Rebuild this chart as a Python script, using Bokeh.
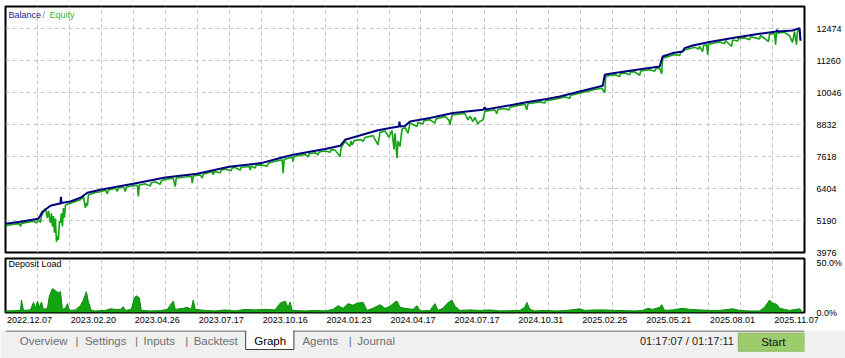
from bokeh.plotting import figure
from bokeh.layouts import column
from bokeh.models import Range1d, FixedTicker, Label, ColumnDataSource, PrintfTickFormatter
from bokeh.embed import file_html
from bokeh.resources import INLINE
from bokeh.core.properties import value

FONT = "Liberation Sans"
GREEN = "#13a313"
NAVY = "#00007f"
GRID = "#c4c4c4"

# ---------------- data ----------------
y_ticks = [3976, 5190, 6404, 7618, 8832, 10046, 11260, 12474]
date_labels = ["2022.12.07", "2023.02.20", "2023.04.26", "2023.07.17", "2023.10.16",
               "2024.01.23", "2024.04.17", "2024.07.17", "2024.10.31", "2025.02.25",
               "2025.05.21", "2025.08.01", "2025.11.07"]

bal_x = [0, 15, 33, 37, 45, 53, 55, 55.5, 56, 65, 75, 82, 95, 128, 160, 192, 224, 256,
         275, 288, 320, 335, 340, 372, 385, 394, 394.5, 395, 400, 405, 425, 448, 478, 480,
         481, 508, 523, 542, 555, 575, 598, 600, 605, 632, 655, 658, 668, 678, 680, 688,
         705, 728, 755, 772, 772.5, 773, 788, 795, 796]
bal_v = [5065, 5141, 5255, 5520, 5748, 5824, 5824, 6090, 5850, 5911, 6051, 6241, 6355,
         6582, 6822, 6962, 7228, 7368, 7558, 7683, 7899, 8024, 8252, 8605, 8696, 8756,
         8946, 8760, 8780, 8946, 9075, 9265, 9390, 9477, 9400, 9580, 9682, 9796, 9895,
         10084, 10301, 10718, 10756, 10908, 11033, 11412, 11541, 11602, 11731, 11830,
         11959, 12110, 12274, 12361, 12425, 12365, 12399, 12490, 12019]

equity_pts = [
    (0, 4990), (10, 5060), (14, 5070), (15, 4962), (16, 5080), (28, 5160), (31, 5103),
    (32, 5170), (34, 5180), (35, 5110), (36, 5360), (37, 5440), (40, 5643), (42, 5290),
    (43, 5560), (45, 5103), (46, 5460), (47, 4962), (48, 5360), (49, 4723), (50, 5260),
    (51, 4382), (52, 4600), (53, 4458), (54, 5160), (55, 5103), (56, 5460), (57, 4962),
    (58, 5660), (59, 5293), (60, 5760), (62, 5810), (65, 5840), (70, 5910), (75, 5980),
    (78, 6110), (80, 5672), (81, 5860), (82, 5750), (83, 6160), (90, 6250), (95, 6280),
    (100, 6340), (102, 6200), (103, 6350), (110, 6410), (112, 6300), (113, 6420),
    (118, 6460), (120, 6290), (121, 6460), (128, 6510), (132, 6530), (133, 6101),
    (134, 6540), (140, 6580), (145, 6500), (146, 6620), (150, 6660), (155, 6560),
    (156, 6700), (160, 6750), (168, 6790), (170, 6480), (171, 6800), (180, 6840),
    (186, 6870), (187, 6609), (188, 6880), (195, 6920), (197, 6800), (198, 6940),
    (200, 6970), (207, 7040), (208, 6924), (209, 7050), (215, 7000), (216, 7110),
    (220, 7140), (226, 7080), (227, 7190), (230, 7200), (235, 7100), (236, 7220),
    (240, 7220), (244, 7240), (245, 7100), (246, 7260), (250, 7180), (251, 7290),
    (256, 7300), (262, 7250), (263, 7360), (270, 7440), (277, 7490), (278, 6988),
    (279, 7500), (287, 7600), (288, 7429), (289, 7620), (300, 7700), (303, 7600),
    (304, 7720), (310, 7760), (313, 7680), (314, 7790), (320, 7830), (325, 7780),
    (326, 7880), (330, 7860), (335, 7618), (336, 7950), (340, 8190), (345, 8000),
    (346, 8210), (347, 8062), (349, 8220), (356, 8260), (358, 8187), (360, 8340),
    (368, 8410), (373, 8062), (375, 8540), (380, 8580), (384, 8350), (385, 8442),
    (387, 8610), (389, 7884), (390, 8500), (392, 7558), (393, 8200), (395, 8000),
    (397, 8660), (400, 8720), (403, 8500), (405, 8890), (412, 8756), (413, 8920),
    (418, 8850), (419, 8980), (425, 9010), (430, 8885), (431, 9040), (440, 9140),
    (444, 9000), (445, 8821), (447, 9190), (455, 9230), (460, 9250), (463, 9011),
    (465, 9150), (468, 8946), (470, 9100), (473, 8848), (475, 8950), (478, 9000),
    (480, 9340), (490, 9380), (492, 9250), (493, 9400), (500, 9440), (504, 9380),
    (505, 9490), (510, 9530), (520, 9600), (522, 9390), (523, 9620), (535, 9690),
    (540, 9650), (541, 9730), (550, 9790), (560, 9880), (565, 9830), (566, 9940),
    (575, 10020), (590, 10160), (597, 10210), (600, 10046), (601, 10660), (610, 10720),
    (615, 10650), (616, 10770), (620, 10790), (625, 10720), (626, 10830), (630, 10830),
    (635, 10700), (636, 10860), (645, 10910), (650, 10850), (651, 10950), (655, 10970),
    (657, 10756), (658, 11350), (670, 11490), (675, 11450), (676, 11560), (680, 11660),
    (690, 11760), (694, 11700), (695, 11800), (698, 11600), (699, 11830), (702, 11860),
    (703, 11477), (704, 11880), (715, 11960), (720, 11900), (721, 12020), (727, 11792),
    (728, 12040), (733, 12000), (734, 12090), (740, 12120), (745, 12050), (746, 12160),
    (755, 12080), (756, 12210), (764, 11981), (765, 12260), (770, 12290), (771, 11856),
    (772, 12300), (780, 12330), (785, 12200), (788, 11950), (790, 12360), (792, 11856),
    (793, 12390), (795, 12420), (796, 12000)]
eq_x = [p[0] for p in equity_pts]
eq_v = [p[1] for p in equity_pts]

deposit_pts = [
    (0, 1.5), (10, 1.8), (15, 2), (16, 12), (18, 2), (25, 2.5), (28, 9.7), (30, 4),
    (32, 10.7), (34, 5), (36, 10), (38, 3), (42, 4), (44, 16), (47, 23), (50, 21),
    (53, 19), (55, 20), (57, 3), (60, 4), (62, 8.5), (64, 2), (70, 2.5), (75, 6.6),
    (78, 12), (81, 20), (83, 10), (86, 2), (90, 1.5), (100, 2), (105, 3.5), (110, 3),
    (115, 3), (118, 5.6), (120, 2), (126, 3), (129, 14), (131, 16), (134, 14), (136, 2),
    (145, 1.5), (155, 1.8), (162, 3), (168, 11), (170, 3), (178, 4), (182, 5), (186, 3),
    (188, 12), (190, 3), (200, 2), (210, 1.5), (220, 2.5), (230, 1.5), (240, 3),
    (250, 2.5), (260, 3), (270, 2.5), (275, 9), (280, 11), (283, 5), (285, 10), (287, 2),
    (300, 1.5), (310, 2), (320, 1.5), (328, 3), (333, 6.6), (338, 4), (343, 8.5),
    (348, 7), (352, 9), (358, 9.7), (362, 2), (368, 4), (375, 7.5), (380, 4), (385, 6),
    (390, 10), (392, 11), (395, 5), (400, 4), (408, 3), (412, 6.6), (415, 1.5), (425, 2),
    (430, 8.5), (433, 2), (438, 4), (442, 8.5), (447, 12), (450, 6), (455, 2),
    (465, 2.5), (475, 2), (485, 2.5), (495, 1.5), (505, 1.8), (515, 2), (520, 5),
    (522, 9.7), (525, 3), (530, 1.5), (540, 2), (550, 1.5), (560, 1.8), (575, 3.5),
    (580, 2), (590, 2.5), (600, 2.5), (610, 2), (620, 1.8), (630, 1.5), (638, 2),
    (643, 4), (648, 3), (655, 5), (657, 7.5), (660, 2), (668, 2.5), (678, 4), (685, 3),
    (695, 2.5), (705, 2), (715, 2), (728, 3.5), (735, 2), (745, 1.5), (755, 1.5),
    (760, 5), (765, 12), (768, 9), (772, 8), (775, 4), (780, 3), (785, 2), (795, 3.5),
    (797, 2)]
dep_x = [p[0] for p in deposit_pts]
dep_v = [p[1] for p in deposit_pts]

tab_labels = ["Overview", "|", "Settings", "|", "Inputs", "|", "Backtest", "Graph",
              "Agents", "|", "Journal"]
tab_left = [15, 74, 84, 137, 146, 190, 199, 263, 314, 363, 372]
tab_colors = ["#6e6e6e"] * 7 + ["#000000"] + ["#6e6e6e"] * 3
time_text = "01:17:07 / 01:17:11"
start_text = "Start"

grid_x = [32 * k for k in range(1, 25)]
date_ticks = [64 * k + 24 for k in range(len(date_labels))]

# ---------------- main balance / equity panel ----------------
pA = figure(width=845, height=257, x_range=Range1d(0, 800), y_range=Range1d(3976, 13309),
            x_axis_location=None, y_axis_location="right", toolbar_location=None,
            output_backend="svg", min_border_left=5, min_border_right=40,
            min_border_top=6, min_border_bottom=5)
pA.outline_line_color = "black"
pA.outline_line_width = 2
pA.background_fill_color = "white"
pA.border_fill_color = "white"
pA.yaxis.ticker = FixedTicker(ticks=y_ticks)
pA.ygrid.ticker = FixedTicker(ticks=y_ticks)
pA.xgrid.ticker = FixedTicker(ticks=grid_x)
for g in (pA.xgrid, pA.ygrid):
    g.grid_line_color = GRID
    g.grid_line_dash = "4 3"
    g.grid_line_width = 1
pA.yaxis.axis_line_color = None
pA.yaxis.major_tick_line_color = None
pA.yaxis.minor_tick_line_color = None
pA.yaxis.major_label_standoff = 6
pA.yaxis.major_label_text_font = FONT
pA.yaxis.major_label_text_font_size = "9px"
pA.yaxis.major_label_text_color = "black"

pA.line(eq_x, eq_v, line_color=GREEN, line_width=1.6)
pA.line(bal_x, bal_v, line_color=NAVY, line_width=2)

for txt, xx, col in [("Balance", 3, "#1a1a8a"), ("/", 37, "#808080"), ("Equity", 44, "#3cb43c")]:
    pA.add_layout(Label(x=xx, y=12994, text=txt, text_font=FONT, text_font_size="9px",
                        text_color=col, text_baseline="middle", text_align="left"))

# ---------------- deposit load panel ----------------
pB = figure(width=845, height=73, x_range=Range1d(0, 800), y_range=Range1d(0, 51.9),
            y_axis_location="right", toolbar_location=None, output_backend="svg",
            min_border_left=5, min_border_right=40, min_border_top=1, min_border_bottom=18)
pB.outline_line_color = "black"
pB.outline_line_width = 2
pB.border_fill_color = "white"
pB.ygrid.visible = False
pB.xgrid.ticker = FixedTicker(ticks=grid_x)
pB.xgrid.grid_line_color = GRID
pB.xgrid.grid_line_dash = "4 3"
pB.yaxis.ticker = FixedTicker(ticks=[0, 50])
pB.yaxis.formatter = PrintfTickFormatter(format="%.1f%%")
pB.yaxis.axis_line_color = None
pB.yaxis.major_tick_line_color = None
pB.yaxis.minor_tick_line_color = None
pB.yaxis.major_label_standoff = 6
pB.yaxis.major_label_text_font = FONT
pB.yaxis.major_label_text_font_size = "9px"
pB.yaxis.major_label_text_color = "black"
pB.xaxis.ticker = FixedTicker(ticks=date_ticks)
pB.xaxis.major_label_overrides = {t: lab for t, lab in zip(date_ticks, date_labels)}
pB.xaxis.axis_line_color = None
pB.xaxis.major_tick_line_color = None
pB.xaxis.minor_tick_line_color = None
pB.xaxis.major_tick_out = 0
pB.xaxis.major_label_standoff = 4
pB.xaxis.major_label_text_font = FONT
pB.xaxis.major_label_text_font_size = "9px"
pB.xaxis.major_label_text_color = "black"

pB.varea(x=dep_x, y1=0, y2=dep_v, fill_color=GREEN)
pB.line(dep_x, dep_v, line_color="#0a8a0a", line_width=1)
pB.add_layout(Label(x=3, y=46.5, text="Deposit Load", text_font=FONT, text_font_size="9px",
                    text_color="black", text_baseline="middle", text_align="left"))

# ---------------- bottom tab bar ----------------
pC = figure(width=845, height=28, x_range=Range1d(0, 845), y_range=Range1d(28, 0),
            x_axis_location=None, y_axis_location=None, toolbar_location=None,
            output_backend="svg", min_border=0)
pC.grid.visible = False
pC.outline_line_color = None
pC.background_fill_color = "#f0f0f0"
pC.border_fill_color = "#f0f0f0"
pC.quad(left=[254], right=[305], top=[0], bottom=[19], fill_color="white", line_color=None)
pC.segment(x0=[0, 305, 254, 254, 305], y0=[0.5, 0.5, 0, 19, 0],
           x1=[254, 845, 254, 305, 305], y1=[0.5, 0.5, 19, 19, 19],
           line_color="#3c3c3c", line_width=1)
pC.quad(left=[775], right=[845], top=[2.7], bottom=[20.7], fill_color="#9ccc6c",
        line_color="#8cbc5c")
tab_src = ColumnDataSource(dict(x=tab_left, y=[10] * len(tab_left), t=tab_labels, c=tab_colors))
pC.text(x="x", y="y", text="t", text_color="c", source=tab_src, text_font=value(FONT),
        text_font_size="11.5px", text_baseline="middle", text_align="left")
pC.text(x=[671], y=[10], text=[time_text], text_font=value(FONT), text_font_size="11px",
        text_color="#1e1e1e", text_baseline="middle", text_align="left")
pC.text(x=[812], y=[11], text=[start_text], text_font=value(FONT), text_font_size="11.5px",
        text_color="#111111", text_baseline="middle", text_align="center")

layout = column(pA, pB, pC, spacing=0)
open("out.html", "w").write(file_html(layout, INLINE))
